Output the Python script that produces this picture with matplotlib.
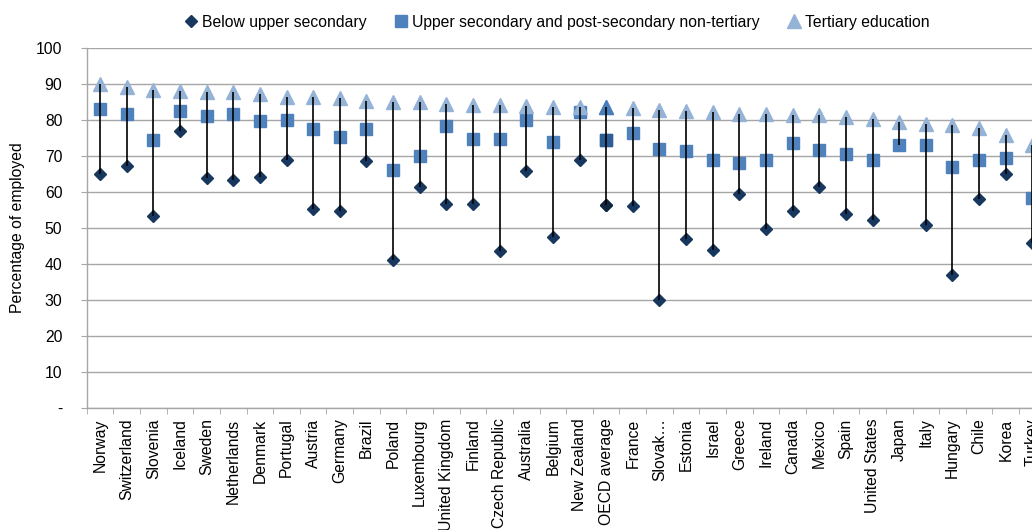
import numpy as np
import matplotlib
matplotlib.use("Agg")
import matplotlib.pyplot as plt
from matplotlib.lines import Line2D

plt.rcParams['font.family'] = ['Liberation Sans', 'DejaVu Sans']

# Employment rates by educational attainment (% of employed)
countries = ["Norway", "Switzerland", "Slovenia", "Iceland", "Sweden", "Netherlands",
             "Denmark", "Portugal", "Austria", "Germany", "Brazil", "Poland",
             "Luxembourg", "United Kingdom", "Finland", "Czech Republic", "Australia",
             "Belgium", "New Zealand", "OECD average", "France", "Slovak…", "Estonia",
             "Israel", "Greece", "Ireland", "Canada", "Mexico", "Spain", "United States",
             "Japan", "Italy", "Hungary", "Chile", "Korea", "Turkey"]

below_upper = [65.1, 67.3, 53.4, 76.9, 64.0, 63.2, 64.3, 68.8, 55.3, 54.6, 68.5, 41.2,
               61.4, 56.7, 56.7, 43.6, 65.8, 47.6, 68.8, 56.3, 56.0, 30.0, 47.0,
               43.8, 59.5, 49.7, 54.8, 61.5, 53.8, 52.2, np.nan, 50.8, 37.0, 58.1, 65.0, 45.8]
upper_sec = [83.0, 81.7, 74.5, 82.5, 81.2, 81.7, 79.6, 80.1, 77.5, 75.4, 77.4, 66.0,
             69.9, 78.3, 74.8, 74.8, 80.1, 73.9, 82.3, 74.4, 76.4, 71.9, 71.4,
             68.8, 68.1, 69.0, 73.6, 71.8, 70.5, 68.8, 73.0, 73.0, 66.9, 69.0, 69.4, 58.3]
tertiary = [89.9, 89.3, 88.3, 88.1, 87.8, 87.8, 87.1, 86.5, 86.5, 86.2, 85.3, 85.0,
            85.0, 84.4, 84.1, 84.1, 83.9, 83.7, 83.5, 83.7, 83.2, 82.9, 82.6,
            82.1, 81.8, 81.6, 81.4, 81.4, 80.9, 80.4, 79.5, 78.8, 78.6, 77.8, 75.8, 73.0]

labels = ["Below upper secondary", "Upper secondary and post-secondary non-tertiary",
          "Tertiary education"]

c_below = "#17375E"
c_upper = "#4F81BD"
c_tert = "#95B3D7"
grid_c = "#A6A6A6"
fs = 11.3

x = np.arange(len(countries))
vals = np.array([below_upper, upper_sec, tertiary])
lo = np.nanmin(vals, axis=0)
hi = np.nanmax(vals, axis=0)

fig = plt.figure(figsize=(10.32, 5.30), dpi=100)
# axis runs a bit past the right edge, as in the original
ax = fig.add_axes([86.7 / 1032, 1 - 408 / 530, 36 * 26.64 / 1032, 360 / 530])

ax.plot(x, below_upper, "D", ms=6.6, color=c_below, ls="none", zorder=3)
ax.plot(x, upper_sec, "s", ms=9.2, color=c_upper, ls="none", zorder=3)
ax.plot(x, tertiary, "^", ms=9.5, color=c_tert, ls="none", zorder=3)

# OECD average highlighted
k = countries.index("OECD average")
ax.plot(k, below_upper[k], "D", ms=6.6, color="#10263F", zorder=4)
ax.plot(k, upper_sec[k], "s", ms=9.2, color="#2F5E96", zorder=4)
ax.plot(k, tertiary[k], "^", ms=9.5, color="#4A7EBB", zorder=4)

# high-low lines drawn over the markers
ax.vlines(x, lo, hi, color="black", lw=1.2, zorder=5)

ax.set_xlim(-0.5, len(countries) - 0.5)
ax.set_ylim(0, 100)
yt = np.arange(0, 101, 10)
ax.set_yticks(yt)
ax.set_yticklabels(["-"] + [str(v) for v in yt[1:]], fontsize=fs)
ax.tick_params(axis="y", length=4, color=grid_c, pad=13.5)
ax.yaxis.grid(True, color=grid_c, lw=1.0)
ax.set_axisbelow(True)

ax.set_xticks(x)
ax.set_xticklabels(countries, rotation=90, ha="center", va="top", fontsize=fs)
ax.set_xticks(np.arange(-0.5, len(countries), 1), minor=True)
ax.tick_params(axis="x", which="major", length=0, pad=7.5)
ax.tick_params(axis="x", which="minor", length=4, color=grid_c)

for s in ["top", "right"]:
    ax.spines[s].set_visible(False)
for s in ["left", "bottom"]:
    ax.spines[s].set_color(grid_c)
    ax.spines[s].set_linewidth(1.0)

fig.text(18 / 1032, 1 - 228 / 530, "Percentage of employed", rotation=90,
         ha="center", va="center", fontsize=fs)

handles = [Line2D([], [], marker="D", ms=6.6, color=c_below, ls="none"),
           Line2D([], [], marker="s", ms=9.2, color=c_upper, ls="none"),
           Line2D([], [], marker="^", ms=9.5, color=c_tert, ls="none")]
fig.legend(handles, labels, loc="center", bbox_to_anchor=(0.54, 1 - 22 / 530),
           ncol=3, frameon=False, fontsize=fs, handlelength=0.8,
           handletextpad=0.3, columnspacing=1.8)

fig.savefig("out.png", dpi=100)
